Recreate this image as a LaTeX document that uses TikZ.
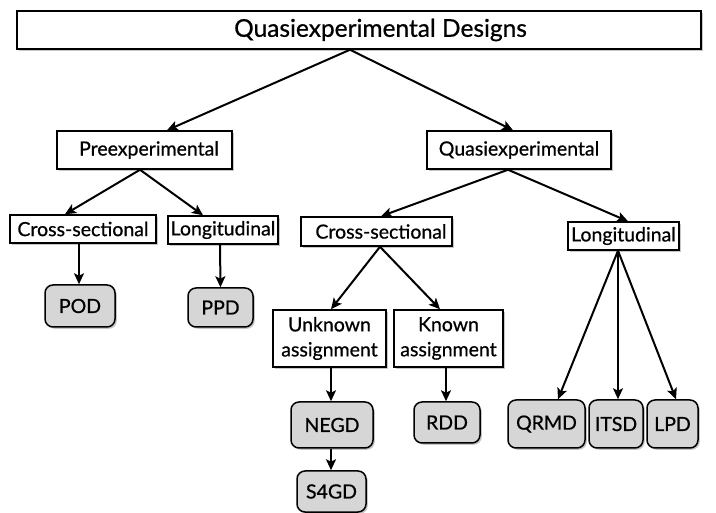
\documentclass[tikz,border=0pt]{standalone}
\usepackage{fontspec}
\setmainfont{Lato}[FakeBold=0.7]
\usetikzlibrary{arrows.meta,shadows}
\begin{document}
\begin{tikzpicture}[x=1pt,y=-1pt,
  box/.style={draw, line width=1.5pt, fill=white, inner sep=0pt, align=center,
    font=\fontsize{19.5}{25}\selectfont,
    drop shadow={shadow xshift=1.8pt, shadow yshift=-1.8pt, fill=black!40, opacity=0.55}},
  design/.style={box, rounded corners=8pt, fill=black!16},
  link/.style={line width=2pt, -{Stealth[length=11pt,width=10pt,inset=2.5pt]}}]
\useasboundingbox (0,0) rectangle (716,513);

% category boxes
\node[box, minimum width=684pt, minimum height=38pt, font=\fontsize{24.5}{28}\selectfont]
  (top) at (359,30) {\hspace*{43pt}Quasiexperimental Designs};
\node[box, minimum width=175pt, minimum height=38pt] (pre)   at (144.5,150) {\hspace*{9pt}Preexperimental};
\node[box, minimum width=184pt, minimum height=38pt] (quasi) at (519,150) {Quasiexperimental};
\node[box, minimum width=146pt, minimum height=28pt] (csL)   at (83,229) {Cross-sectional};
\node[box, minimum width=110pt, minimum height=28pt] (loL)   at (223,230) {Longitudinal};
\node[box, minimum width=151pt, minimum height=29pt] (csR)   at (376.5,231.5) {\hspace*{9pt}Cross-sectional};
\node[box, minimum width=111pt, minimum height=28pt] (loR)   at (623.5,236) {Longitudinal};
\node[box, minimum width=113pt, minimum height=57pt] (unk)   at (329.5,338.5) {Unknown\\assignment};
\node[box, minimum width=109pt, minimum height=57pt] (kno)   at (448.5,338.5) {Known\\assignment};

% design boxes
\node[design, minimum width=70pt, minimum height=42pt] (pod)  at (80,306) {POD};
\node[design, minimum width=65pt, minimum height=39pt] (ppd)  at (220.5,307.5) {PPD};
\node[design, minimum width=82pt, minimum height=46pt] (negd) at (332,425) {NEGD};
\node[design, minimum width=66pt, minimum height=41pt] (rdd)  at (447,422.5) {RDD};
\node[design, minimum width=69pt, minimum height=41pt] (s4gd) at (331.5,491.5) {S4GD};
\node[design, minimum width=77pt, minimum height=48pt] (qrmd) at (546.5,424) {QRMD};
\node[design, minimum width=54pt, minimum height=48pt] (itsd) at (616,424) {ITSD};
\node[design, minimum width=51pt, minimum height=48pt] (lpd)  at (672.5,424) {LPD};

% connectors
\draw[link] ([xshift=-9pt]top.south) -- ([xshift=22.5pt]pre.north);
\draw[link] ([xshift=-9pt]top.south) -- ([xshift=-6pt]quasi.north);

\draw[link] ([xshift=-4.5pt]pre.south) -- ([xshift=-18pt]csL.north);
\draw[link] ([xshift=-4.5pt]pre.south) -- ([xshift=-20pt]loL.north);
\draw[link] ([xshift=-4pt]csL.south) -- ([xshift=-1pt]pod.north);
\draw[link] ([xshift=-3pt]loL.south) -- (ppd.north);

\draw[link] ([xshift=-11pt]quasi.south) -- ([xshift=4.5pt]csR.north);
\draw[link] ([xshift=-11pt]quasi.south) -- ([xshift=4.5pt]loR.north);
\draw[link] ([xshift=3.5pt]csR.south) -- ([xshift=1.5pt]unk.north);
\draw[link] ([xshift=3.5pt]csR.south) -- ([xshift=-8.5pt]kno.north);
\draw[link] ([xshift=1.5pt]unk.south) -- ([xshift=-1pt]negd.north);
\draw[link] ([xshift=-2.5pt]kno.south) -- ([xshift=-1pt]rdd.north);
\draw[link] ([xshift=-1pt]negd.south) -- ([xshift=-0.5pt]s4gd.north);

\draw[link] ([xshift=-5.5pt]loR.south) -- ([xshift=11.5pt]qrmd.north);
\draw[link] ([xshift=-5.5pt]loR.south) -- ([xshift=2pt]itsd.north);
\draw[link] ([xshift=-5.5pt]loR.south) -- ([xshift=3.5pt]lpd.north);
\end{tikzpicture}
\end{document}
